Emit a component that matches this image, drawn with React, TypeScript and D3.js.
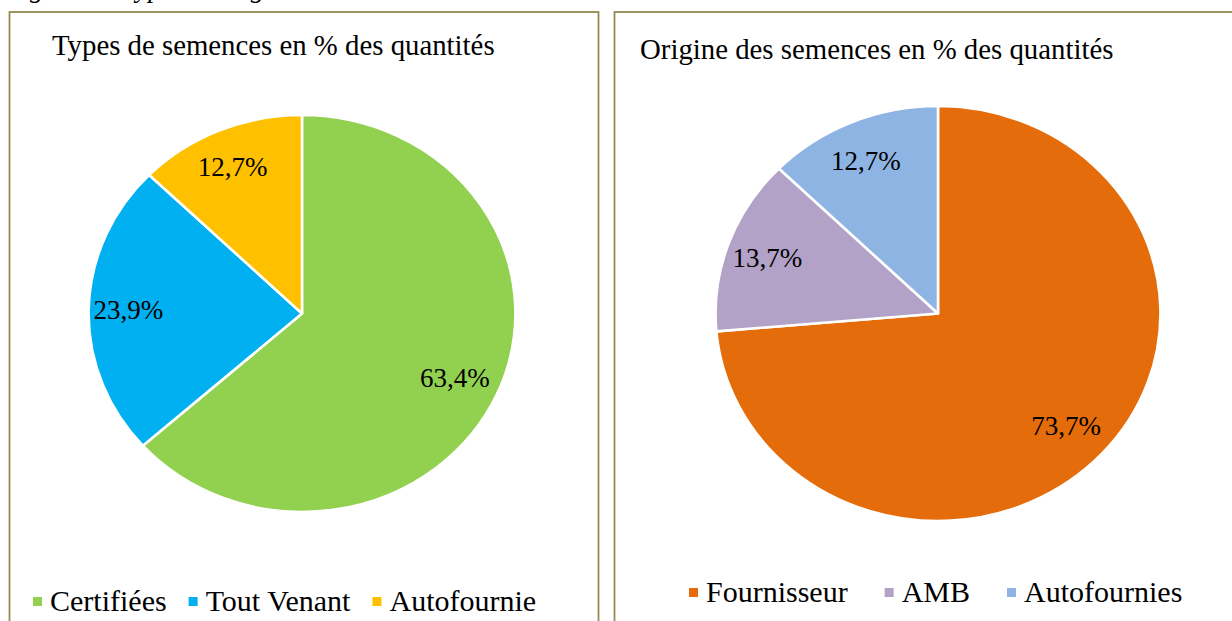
import React, { useEffect, useRef } from "react";
import * as d3 from "d3";

// ---- Data ----
const typeCategories = ["Certifiées", "Tout Venant", "Autofournie"];
const typeValues = [63.4, 23.9, 12.7];
const typeLabels = ["63,4%", "23,9%", "12,7%"];
const typeColors = ["#92D050", "#00B0F0", "#FFC000"];

const originCategories = ["Fournisseur", "AMB", "Autofournies"];
const originValues = [73.7, 13.7, 12.7];
const originLabels = ["73,7%", "13,7%", "12,7%"];
const originColors = ["#E46C0A", "#B3A2C7", "#8EB4E3"];

const captionText = "Figure 3 : Types et origine des semences";
const typeTitle = "Types de semences en % des quantités";
const originTitle = "Origine des semences en % des quantités";

const W = 1232;
const H = 621;
const FONT = "'Liberation Serif', 'Times New Roman', serif";

interface PanelCfg {
  box: [number, number, number, number];
  title: string;
  titleX: number;
  titleY: number;
  cx: number;
  cy: number;
  ry: number;
  sx: number;
  cats: string[];
  vals: number[];
  labels: string[];
  colors: string[];
  legendX: number;
  legendY: number;
  legendGap: number;
}

export default function App() {
  const ref = useRef<SVGSVGElement | null>(null);

  useEffect(() => {
    const svg = d3.select(ref.current);
    svg.selectAll("*").remove();

    svg.append("rect").attr("width", W).attr("height", H).attr("fill", "#ffffff");

    // cut-off caption at very top
    svg
      .append("text")
      .attr("x", 5.5)
      .attr("y", -3)
      .attr("font-family", FONT)
      .attr("font-style", "italic")
      .attr("font-size", 27.5)
      .attr("fill", "#000")
      .text(captionText);

    const panels: PanelCfg[] = [
      {
        box: [9.5, 12, 589, 700],
        title: typeTitle,
        titleX: 52,
        titleY: 55,
        cx: 302,
        cy: 313.5,
        ry: 198.5,
        sx: 1.075,
        cats: typeCategories,
        vals: typeValues,
        labels: typeLabels,
        colors: typeColors,
        legendX: 33,
        legendY: 611,
        legendGap: 22,
      },
      {
        box: [614.5, 12, 700, 700],
        title: originTitle,
        titleX: 640,
        titleY: 59,
        cx: 938,
        cy: 313.5,
        ry: 207.5,
        sx: 1.072,
        cats: originCategories,
        vals: originValues,
        labels: originLabels,
        colors: originColors,
        legendX: 689,
        legendY: 602,
        legendGap: 37,
      },
    ];

    panels.forEach((p) => {
      const g = svg.append("g");
      g.append("rect")
        .attr("x", p.box[0])
        .attr("y", p.box[1])
        .attr("width", p.box[2])
        .attr("height", p.box[3])
        .attr("fill", "none")
        .attr("stroke", "#948A54")
        .attr("stroke-width", 1.8);

      g.append("text")
        .attr("x", p.titleX)
        .attr("y", p.titleY)
        .attr("font-family", FONT)
        .attr("font-size", 28.8)
        .attr("fill", "#000")
        .text(p.title);

      const pie = d3
        .pie<number>()
        .sort(null)
        .value((d) => d)
        .startAngle(0)
        .endAngle(2 * Math.PI);
      const arcs = pie(p.vals);
      const arc = d3.arc<d3.PieArcDatum<number>>().innerRadius(0).outerRadius(p.ry);
      const labelArc = d3
        .arc<d3.PieArcDatum<number>>()
        .innerRadius(p.ry * 0.8)
        .outerRadius(p.ry * 0.8);

      const pg = g
        .append("g")
        .attr("transform", `translate(${p.cx},${p.cy}) scale(${p.sx},1)`);
      pg.selectAll("path")
        .data(arcs)
        .enter()
        .append("path")
        .attr("d", (d) => arc(d) as string)
        .attr("fill", (_d, i) => p.colors[i])
        .attr("stroke", "#ffffff")
        .attr("stroke-width", 2.6)
        .attr("vector-effect", "non-scaling-stroke")
        .attr("stroke-linejoin", "round");

      g.selectAll("text.lbl")
        .data(arcs)
        .enter()
        .append("text")
        .attr("class", "lbl")
        .attr("x", (d) => p.cx + labelArc.centroid(d)[0] * p.sx - 3)
        .attr("y", (d) => p.cy + labelArc.centroid(d)[1] + 9)
        .attr("text-anchor", "middle")
        .attr("font-family", FONT)
        .attr("font-size", 27)
        .attr("fill", "#000")
        .text((_d, i) => p.labels[i]);

      // legend
      let x = p.legendX;
      const ms = 9;
      p.cats.forEach((c, i) => {
        g.append("rect")
          .attr("x", x)
          .attr("y", p.legendY - 14)
          .attr("width", ms)
          .attr("height", ms)
          .attr("fill", p.colors[i]);
        const t = g
          .append("text")
          .attr("x", x + 17)
          .attr("y", p.legendY)
          .attr("font-family", FONT)
          .attr("font-size", 30)
          .attr("fill", "#000")
          .text(c);
        const w = (t.node() as SVGTextElement).getComputedTextLength();
        x = x + 17 + w + p.legendGap;
      });
    });
  }, []);

  return (
    <svg
      ref={ref}
      width={W}
      height={H}
      style={{ position: "absolute", left: 0, top: 0, display: "block" }}
    />
  );
}
